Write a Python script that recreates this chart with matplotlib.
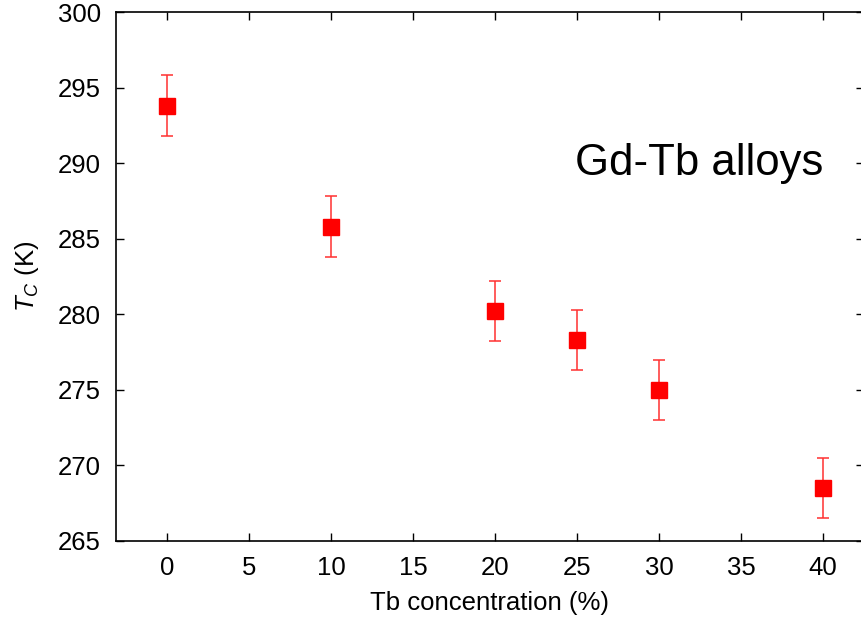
import matplotlib
matplotlib.use('Agg')
import matplotlib.pyplot as plt

plt.rcParams['font.family'] = ['Liberation Sans', 'DejaVu Sans']
plt.rcParams['mathtext.fontset'] = 'custom'
plt.rcParams['mathtext.it'] = 'Liberation Sans:italic'
plt.rcParams['mathtext.rm'] = 'Liberation Sans'

# Tb concentration (%) vs Curie temperature (K)
conc = [0, 10, 20, 25, 30, 40]
tc = [293.8, 285.8, 280.2, 278.3, 275.0, 268.5]
err = [2, 2, 2, 2, 2, 2]

xticks = [0, 5, 10, 15, 20, 25, 30, 35, 40]
yticks = [265, 270, 275, 280, 285, 290, 295, 300]

fig = plt.figure(figsize=(8.61, 6.23), dpi=100)
ax = fig.add_axes([116/861, 1 - 541/623, 748/861, 529/623])

ax.errorbar(conc, tc, yerr=err, fmt='none', ecolor='#ff3030', elinewidth=1.1,
            capsize=4, capthick=1.1)
ax.plot(conc, tc, 's', color='#ff0000', markersize=11.5, linestyle='none')

ax.set_xlim(-3.1, 42.5)
ax.set_ylim(265, 300)
ax.set_xticks(xticks)
ax.set_yticks(yticks)
ax.tick_params(direction='in', length=6, width=1, top=True, right=True,
               labelsize=18.5, pad=11)
for s in ax.spines.values():
    s.set_linewidth(1.2)

ax.set_xlabel('Tb concentration (%)', fontsize=18.5, labelpad=8)
ax.set_ylabel(r'$T_C$ (K)', fontsize=18.5, labelpad=12)
ax.text(40, 290, 'Gd-Tb alloys', fontsize=31.5, ha='right', va='center')

fig.savefig('out.png', dpi=100)
